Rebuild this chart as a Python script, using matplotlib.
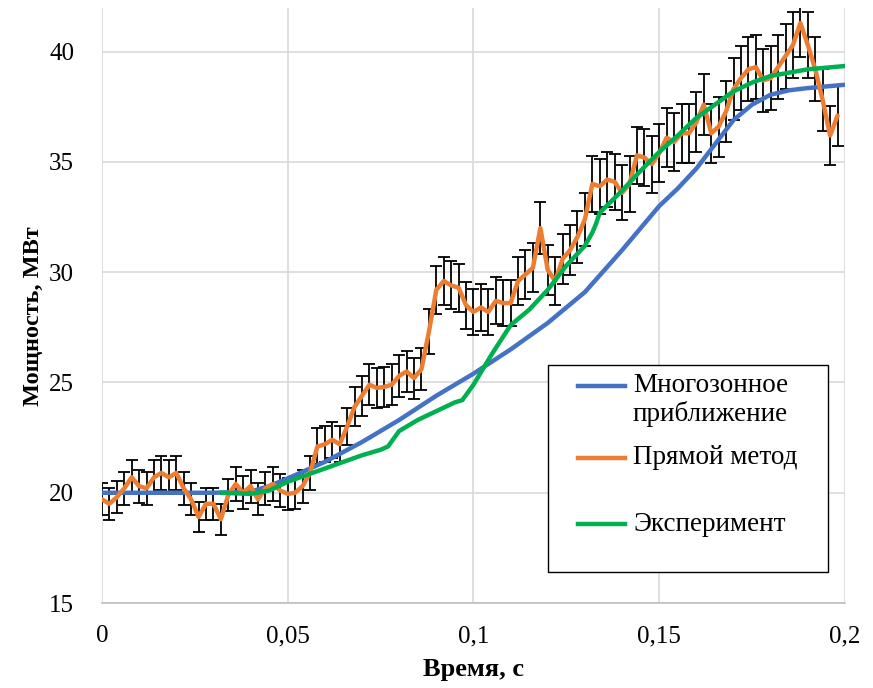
import numpy as np
import matplotlib
matplotlib.use("Agg")
from matplotlib import pyplot as plt
from matplotlib import patches as mpatches
from matplotlib.lines import Line2D

plt.rcParams['font.family'] = ['Liberation Serif', 'DejaVu Serif']

# "Прямой метод" - points every 0.002 s, with error bars
direct_t = [round(i * 0.002, 3) for i in range(100)]
direct_p = [19.7, 19.5, 19.8, 20.2, 20.7, 20.3, 20.2, 20.7, 20.9, 20.7,
            20.9, 20.2, 19.7, 18.9, 19.5, 19.5, 18.8, 19.9, 20.4, 20.0,
            20.3, 19.7, 20.2, 20.4, 20.1, 19.95, 20.0, 20.3, 20.9, 22.1,
            22.2, 22.4, 22.2, 23.0, 23.9, 24.4, 24.9, 24.75, 24.8, 24.9,
            25.3, 25.5, 25.2, 25.6, 27.3, 29.2, 29.6, 29.4, 29.3, 28.5,
            28.2, 28.4, 28.2, 28.7, 28.6, 28.6, 29.6, 29.9, 30.2, 32.0,
            30.1, 29.6, 30.6, 31.0, 31.6, 32.4, 34.0, 33.9, 34.2, 34.1,
            33.6, 34.0, 35.3, 35.2, 34.9, 35.4, 36.1, 35.9, 36.3, 36.3,
            36.8, 37.6, 36.3, 36.6, 37.3, 38.3, 38.8, 39.2, 39.3, 38.7,
            38.8, 39.3, 39.8, 40.3, 41.3, 40.3, 39.2, 37.8, 36.2, 37.1]
ERR_FRAC = 0.037

# "Многозонное приближение"
multi_t = [0.0, 0.01, 0.02, 0.03, 0.04, 0.045, 0.05, 0.06, 0.07, 0.08,
           0.09, 0.1, 0.11, 0.12, 0.13, 0.14, 0.15, 0.155, 0.16, 0.165,
           0.17, 0.175, 0.18, 0.185, 0.19, 0.2]
multi_p = [20.0, 20.0, 20.0, 20.0, 20.05, 20.3, 20.65, 21.4, 22.3, 23.3,
           24.4, 25.4, 26.5, 27.7, 29.1, 31.0, 33.0, 33.8, 34.7, 35.8,
           36.9, 37.6, 38.05, 38.25, 38.35, 38.5]

# "Эксперимент"
exp_t = [0.032, 0.04, 0.045, 0.05, 0.055, 0.06, 0.065, 0.07, 0.075, 0.077,
         0.08, 0.085, 0.09, 0.095, 0.097, 0.1, 0.105, 0.11, 0.115, 0.12,
         0.125, 0.13, 0.132, 0.133, 0.134, 0.14, 0.145, 0.15, 0.155, 0.16,
         0.165, 0.17, 0.175, 0.18, 0.185, 0.19, 0.2]
exp_p = [20.0, 19.95, 20.1, 20.5, 20.8, 21.1, 21.4, 21.7, 21.95, 22.1,
         22.8, 23.3, 23.7, 24.1, 24.2, 24.9, 26.3, 27.6, 28.3, 29.2,
         30.3, 31.2, 31.8, 32.2, 32.7, 33.7, 34.6, 35.45, 36.2, 37.0,
         37.6, 38.2, 38.6, 38.9, 39.05, 39.2, 39.35]

fig = plt.figure(figsize=(8.73, 6.88), dpi=100)
ax = fig.add_axes([0.1168, 0.1235, 0.8511, 0.8655])

direct_err = [p * ERR_FRAC for p in direct_p]
ax.errorbar(direct_t, direct_p, yerr=direct_err, fmt='none', ecolor='black',
            elinewidth=1.3, capsize=4, capthick=1.3, zorder=2)
ax.plot(multi_t, multi_p, color='#4472C4', lw=3.2, solid_capstyle='round', zorder=3)
ax.plot(direct_t, direct_p, color='#ED7D31', lw=3.2, solid_joinstyle='round',
        solid_capstyle='round', zorder=4)
ax.plot(exp_t, exp_p, color='#00B050', lw=3.2, solid_capstyle='round', zorder=5)

ax.set_xlim(0, 0.2)
ax.set_ylim(15, 42)
ax.set_xticks([0, 0.05, 0.1, 0.15, 0.2])
ax.set_xticklabels(['0', '0,05', '0,1', '0,15', '0,2'])
ax.set_yticks([15, 20, 25, 30, 35, 40])
ax.grid(True, color='#d9d9d9', lw=1.2)
ax.set_axisbelow(True)
for s in ['top', 'right', 'left']:
    ax.spines[s].set_visible(False)
ax.spines['bottom'].set_color('#bfbfbf')
ax.spines['bottom'].set_linewidth(1.2)
ax.tick_params(length=0, labelsize=18, pad=16)
ax.tick_params(axis='y', pad=20)
ax.set_xlabel('Время, с', fontsize=19, fontweight='bold', labelpad=8)
ax.set_ylabel('Мощность, МВт', fontsize=17.5, fontweight='bold')
ax.yaxis.set_label_coords(-0.078, 0.482)

# legend box drawn like the Excel one
tr = ax.transAxes
ax.add_patch(mpatches.Rectangle((0.600, 0.052), 0.377, 0.348, transform=tr,
                                facecolor='white', edgecolor='black', lw=1.0,
                                zorder=10, clip_on=False))
entries = [('#4472C4', 0.3645, ['Многозонное', 'приближение']),
           ('#ED7D31', 0.2437, ['Прямой метод']),
           ('#00B050', 0.1326, ['Эксперимент'])]
for col, yy, lines in entries:
    ax.add_line(Line2D([0.6407, 0.704], [yy, yy], transform=tr, color=col,
                       lw=3.2, zorder=11, clip_on=False))
    for k, txt in enumerate(lines):
        ax.text(0.7147, yy - k * 0.0471, txt, transform=tr, fontsize=19.5,
                va='center', ha='left', zorder=12)

fig.savefig('out.png', dpi=100)
